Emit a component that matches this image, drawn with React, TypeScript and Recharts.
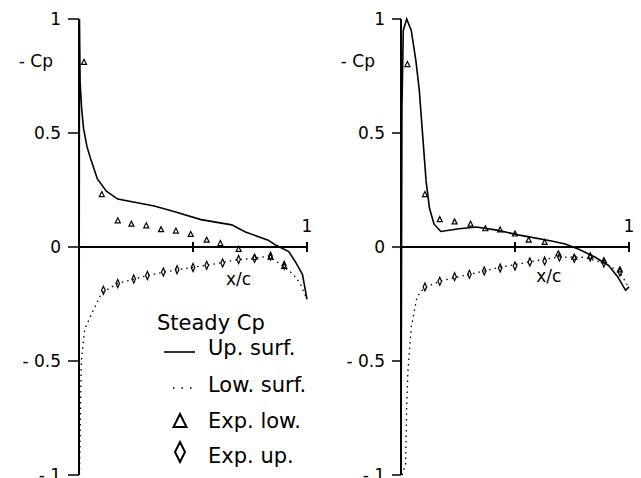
import { ComposedChart, Legend, ReferenceDot, ReferenceLine, Scatter, XAxis, YAxis } from 'recharts'

type Pt = { x: number; y: number }

const yTicks = [-1, -0.5, 0, 0.5, 1]
const xTicks = [0.5, 1]
const font = '"DejaVu Sans", sans-serif'

// left panel
const leftUpper: Pt[] = [
  { x: 0, y: -1 }, { x: 0.002, y: 1 }, { x: 0.005, y: 0.72 }, { x: 0.012, y: 0.6 }, { x: 0.02, y: 0.52 },
  { x: 0.035, y: 0.44 }, { x: 0.05, y: 0.39 }, { x: 0.08, y: 0.3 }, { x: 0.12, y: 0.245 }, { x: 0.17, y: 0.21 },
  { x: 0.25, y: 0.195 }, { x: 0.33, y: 0.18 }, { x: 0.42, y: 0.155 }, { x: 0.535, y: 0.12 }, { x: 0.67, y: 0.097 },
  { x: 0.73, y: 0.066 }, { x: 0.83, y: 0.03 }, { x: 0.86, y: 0.01 }, { x: 0.92, y: -0.02 }, { x: 0.95, y: -0.066 },
  { x: 0.98, y: -0.12 }, { x: 1, y: -0.23 },
]
const leftLower: Pt[] = [
  { x: 0.002, y: -1 }, { x: 0.006, y: -0.75 }, { x: 0.01, y: -0.5 }, { x: 0.025, y: -0.36 }, { x: 0.057, y: -0.29 },
  { x: 0.1, y: -0.2 }, { x: 0.17, y: -0.16 }, { x: 0.3, y: -0.125 }, { x: 0.43, y: -0.1 }, { x: 0.56, y: -0.08 },
  { x: 0.7, y: -0.055 }, { x: 0.77, y: -0.05 }, { x: 0.83, y: -0.04 }, { x: 0.89, y: -0.08 }, { x: 0.94, y: -0.12 },
  { x: 0.97, y: -0.16 }, { x: 1, y: -0.23 },
]
const leftExpLow: Pt[] = [
  { x: 0.022, y: 0.81 }, { x: 0.1, y: 0.23 }, { x: 0.17, y: 0.115 }, { x: 0.23, y: 0.1 }, { x: 0.295, y: 0.093 },
  { x: 0.36, y: 0.076 }, { x: 0.425, y: 0.07 }, { x: 0.49, y: 0.055 }, { x: 0.56, y: 0.03 }, { x: 0.62, y: 0.015 },
  { x: 0.7, y: -0.01 }, { x: 0.77, y: -0.045 }, { x: 0.84, y: -0.045 }, { x: 0.9, y: -0.085 },
]
const leftExpUp: Pt[] = [
  { x: 0.107, y: -0.19 }, { x: 0.17, y: -0.16 }, { x: 0.24, y: -0.14 }, { x: 0.3, y: -0.125 }, { x: 0.37, y: -0.11 },
  { x: 0.43, y: -0.1 }, { x: 0.5, y: -0.09 }, { x: 0.56, y: -0.08 }, { x: 0.63, y: -0.07 }, { x: 0.7, y: -0.055 },
  { x: 0.77, y: -0.05 }, { x: 0.84, y: -0.04 }, { x: 0.9, y: -0.08 },
]

// right panel
const rightUpper: Pt[] = [
  { x: 0, y: -1 }, { x: 0.004, y: 0.6 }, { x: 0.01, y: 0.95 }, { x: 0.025, y: 1 }, { x: 0.045, y: 0.95 },
  { x: 0.065, y: 0.82 }, { x: 0.08, y: 0.69 }, { x: 0.095, y: 0.49 }, { x: 0.11, y: 0.29 }, { x: 0.125, y: 0.17 },
  { x: 0.145, y: 0.1 }, { x: 0.175, y: 0.068 }, { x: 0.255, y: 0.08 }, { x: 0.33, y: 0.088 }, { x: 0.42, y: 0.074 },
  { x: 0.52, y: 0.052 }, { x: 0.66, y: 0.026 }, { x: 0.72, y: 0.013 }, { x: 0.78, y: -0.01 }, { x: 0.85, y: -0.044 },
  { x: 0.91, y: -0.08 }, { x: 0.95, y: -0.13 }, { x: 0.985, y: -0.19 }, { x: 1, y: -0.175 },
]
const rightLower: Pt[] = [
  { x: 0.005, y: -1 }, { x: 0.02, y: -0.95 }, { x: 0.025, y: -0.7 }, { x: 0.03, y: -0.55 }, { x: 0.045, y: -0.35 },
  { x: 0.07, y: -0.22 }, { x: 0.1, y: -0.18 }, { x: 0.17, y: -0.15 }, { x: 0.3, y: -0.12 }, { x: 0.43, y: -0.09 },
  { x: 0.56, y: -0.066 }, { x: 0.69, y: -0.044 }, { x: 0.8, y: -0.045 }, { x: 0.89, y: -0.07 }, { x: 0.96, y: -0.11 },
  { x: 1, y: -0.18 },
]
const rightExpLow: Pt[] = [
  { x: 0.028, y: 0.8 }, { x: 0.105, y: 0.23 }, { x: 0.17, y: 0.12 }, { x: 0.235, y: 0.11 }, { x: 0.305, y: 0.1 },
  { x: 0.37, y: 0.08 }, { x: 0.435, y: 0.075 }, { x: 0.5, y: 0.057 }, { x: 0.56, y: 0.03 }, { x: 0.63, y: 0.02 },
  { x: 0.69, y: -0.03 }, { x: 0.76, y: -0.045 }, { x: 0.83, y: -0.04 }, { x: 0.89, y: -0.06 }, { x: 0.96, y: -0.1 },
]
const rightExpUp: Pt[] = [
  { x: 0.105, y: -0.175 }, { x: 0.17, y: -0.15 }, { x: 0.235, y: -0.13 }, { x: 0.3, y: -0.12 }, { x: 0.365, y: -0.105 },
  { x: 0.435, y: -0.092 }, { x: 0.5, y: -0.083 }, { x: 0.565, y: -0.066 }, { x: 0.63, y: -0.061 }, { x: 0.695, y: -0.044 },
  { x: 0.76, y: -0.05 }, { x: 0.83, y: -0.044 }, { x: 0.89, y: -0.07 }, { x: 0.96, y: -0.11 },
]

const fmtY = (v: number) => (v < 0 ? `- ${Math.abs(v)}` : `${v}`)

const Nothing = () => <g />

function Tri({ cx, cy }: { cx?: number; cy?: number }) {
  if (cx == null || cy == null) return <g />
  return <path d={`M${cx},${cy - 3} L${cx + 2.5},${cy + 2} L${cx - 2.5},${cy + 2} Z`} fill="none" stroke="#000" strokeWidth={1.2} />
}

function Dia({ cx, cy }: { cx?: number; cy?: number }) {
  if (cx == null || cy == null) return <g />
  return <path d={`M${cx},${cy - 4} L${cx + 1.8},${cy} L${cx},${cy + 4} L${cx - 1.8},${cy} Z`} fill="none" stroke="#000" strokeWidth={1.2} />
}

function CpLabel({ viewBox }: { viewBox?: { x: number; y: number; width: number; height: number } }) {
  if (!viewBox) return null
  return (
    <text x={viewBox.x + viewBox.width - 26} y={viewBox.y + 48} textAnchor="end" fontSize={17} fontFamily={font} fill="#000">
      - Cp
    </text>
  )
}

function LegendBox() {
  const t = { fontSize: 21, fontFamily: font, fill: '#000' }
  return (
    <svg width={170} height={175}>
      <text x={7} y={30} {...t}>Steady Cp</text>
      <line x1={14} x2={45} y1={52} y2={52} stroke="#000" strokeWidth={1.6} />
      <text x={58} y={55} {...t}>Up. surf.</text>
      <line x1={23} x2={44} y1={88} y2={88} stroke="#000" strokeWidth={1.4} strokeDasharray="1.5 7" />
      <text x={58} y={92} {...t}>Low. surf.</text>
      <path d="M30,114 L36.5,127 L23.5,127 Z" fill="none" stroke="#000" strokeWidth={2} />
      <text x={58} y={128} {...t}>Exp. low.</text>
      <path d="M30,142 L35,152 L30,162 L25,152 Z" fill="none" stroke="#000" strokeWidth={2} />
      <text x={58} y={163} {...t}>Exp. up.</text>
    </svg>
  )
}

function Panel({
  width,
  axisWidth,
  tickSize,
  upper,
  lower,
  expLow,
  expUp,
  xcAt,
  withLegend,
}: {
  width: number
  axisWidth: number
  tickSize: number
  upper: Pt[]
  lower: Pt[]
  expLow: Pt[]
  expUp: Pt[]
  xcAt: Pt
  withLegend?: boolean
}) {
  const right = width - axisWidth - 228
  return (
    <ComposedChart width={width} height={478} margin={{ top: 19, right, bottom: 3, left: 0 }}>
      <XAxis type="number" dataKey="x" domain={[0, 1]} hide />
      <YAxis
        type="number"
        dataKey="y"
        domain={[-1, 1]}
        ticks={yTicks}
        interval={0}
        width={axisWidth}
        tickFormatter={fmtY}
        tickSize={tickSize}
        tickMargin={7}
        axisLine={{ stroke: '#000', strokeWidth: 2 }}
        tickLine={{ stroke: '#000', strokeWidth: 1.5 }}
        tick={{ fontSize: 17, fontFamily: font, fill: '#000' }}
        label={<CpLabel />}
      />
      <ReferenceLine segment={[{ x: 0, y: 0 }, { x: 1, y: 0 }]} stroke="#000" strokeWidth={2} />
      {xTicks.map((t) => (
        <ReferenceLine key={t} segment={[{ x: t, y: -0.022 }, { x: t, y: 0.022 }]} stroke="#000" strokeWidth={2} />
      ))}
      <ReferenceDot x={1} y={0.094} r={0} fill="none" stroke="none"
        label={{ value: '1', position: 'center', fontSize: 17, fontFamily: font, fill: '#000' }} />
      <ReferenceDot x={xcAt.x} y={xcAt.y} r={0} fill="none" stroke="none"
        label={{ value: 'x/c', position: 'center', fontSize: 17, fontFamily: font, fill: '#000' }} />
      <Scatter name="Up. surf." data={upper} shape={Nothing} line={{ stroke: '#000', strokeWidth: 1.6 }} isAnimationActive={false} />
      <Scatter name="Low. surf." data={lower} shape={Nothing}
        line={{ stroke: '#000', strokeWidth: 1.3, strokeDasharray: '1.5 4' }} isAnimationActive={false} />
      <Scatter name="Exp. low." data={expLow} shape={Tri} isAnimationActive={false} />
      <Scatter name="Exp. up." data={expUp} shape={Dia} isAnimationActive={false} />
      {withLegend && (
        <Legend
          layout="vertical"
          align="center"
          verticalAlign="middle"
          content={<LegendBox />}
          wrapperStyle={{ position: 'absolute', left: 150, top: 300, width: 170, height: 175 }}
        />
      )}
    </ComposedChart>
  )
}

export default function App() {
  return (
    <div style={{ position: 'absolute', left: 0, top: 0, width: 641, height: 478, background: '#fff' }}>
      <div style={{ position: 'absolute', left: 0, top: 0 }}>
        <Panel width={320} axisWidth={79} tickSize={11} upper={leftUpper} lower={leftLower}
          expLow={leftExpLow} expUp={leftExpUp} xcAt={{ x: 0.7, y: -0.14 }} withLegend />
      </div>
      <div style={{ position: 'absolute', left: 320, top: 0 }}>
        <Panel width={321} axisWidth={81} tickSize={9} upper={rightUpper} lower={rightLower}
          expLow={rightExpLow} expUp={rightExpUp} xcAt={{ x: 0.648, y: -0.127 }} />
      </div>
    </div>
  )
}
